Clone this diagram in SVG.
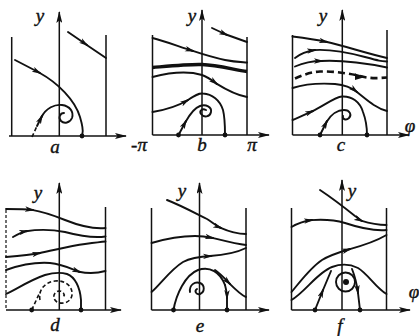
<svg xmlns="http://www.w3.org/2000/svg" width="419" height="336" viewBox="0 0 419 336">
<style>
.fr{fill:none;stroke:#111;stroke-width:1.5}
.cv{fill:none;stroke:#111;stroke-width:1.9;stroke-linecap:round}
.th{fill:none;stroke:#111;stroke-width:3.4}
.ds{fill:none;stroke:#111;stroke-width:1.6;stroke-dasharray:4 2.5}
.dt{fill:#111}
.lb{font-family:"Liberation Serif",serif;font-style:italic;font-size:19px;fill:#111;stroke:#111;stroke-width:0.4;text-anchor:middle}
</style>
<defs>
<marker id="ah" markerWidth="10" markerHeight="6" viewBox="0 0 10 6" refX="8" refY="3" orient="auto" markerUnits="userSpaceOnUse"><path d="M0,0.3 L10,3 L0,5.7 L2.5,3 z" fill="#111"/></marker>
<marker id="ax" markerWidth="12" markerHeight="6" viewBox="0 0 12 6" refX="11" refY="3" orient="auto" markerUnits="userSpaceOnUse"><path d="M0,0 L12,3 L0,6 L2.5,3 z" fill="#111"/></marker>
</defs>

<g id="panel-a">
<path class="fr" d="M11.7,37 V136 M106,35 V136"/>
<path class="fr" d="M59.3,136 V12" marker-end="url(#ax)"/>
<path class="fr" d="M9,136 H126" marker-end="url(#ax)"/>
<path class="cv" d="M68,32 L87,45" marker-end="url(#ah)"/>
<path class="cv" d="M86,44.5 L106,58"/>
<path class="cv" d="M15,60 L40,73" marker-end="url(#ah)"/>
<path class="cv" d="M39,72.5 C58,83 75,100 80,117 S82,132 82,136"/>
<path class="ds" d="M32,137 L37,126"/>
<path class="cv" d="M37,126 L42,116" marker-end="url(#ah)"/>
<path class="cv" d="M41.5,117 C46,108 55,104 62,105 C70,106 74,112 72,118 C70,123 64,124 61,121 C58,118 60,113 64,113"/>
<circle class="dt" cx="82" cy="136" r="2.4"/>
<text class="lb" x="40" y="22">y</text>
<text class="lb" x="55" y="153">a</text>
</g>

<g id="panel-b">
<path class="fr" d="M152.5,35 V135 M247,37 V135"/>
<path class="fr" d="M202,135 V10" marker-end="url(#ax)"/>
<path class="fr" d="M152.5,135 H269" marker-end="url(#ax)"/>
<path class="cv" d="M212,28 L227,35" marker-end="url(#ah)"/>
<path class="cv" d="M226,34.5 L247,42"/>
<path class="cv" d="M152.5,38 C165,41 180,47 193,51" marker-end="url(#ah)"/>
<path class="cv" d="M192,50.7 C205,55 215,58 225,60 S240,62 247,62.5"/>
<path class="th" d="M152.5,67.5 C170,66 190,64 202,64.5 C218,65 235,70 247,71.5"/>
<path class="cv" d="M152.5,77 C168,73 185,70 202,75 C208,77 213,81 217,84" marker-end="url(#ah)"/>
<path class="cv" d="M216,83.4 C225,89 235,95 247,97"/>
<path class="cv" d="M152.5,112 C165,110 178,106 188,100" marker-end="url(#ah)"/>
<path class="cv" d="M187,100.6 C194,96 198,93 203,93.5 C212,94 220,100 223,110 C225,118 225,128 225,135"/>
<path class="cv" d="M178.5,135 L186,121" marker-end="url(#ah)"/>
<path class="cv" d="M185.5,122 C190,114 194,108 200,106 C206,104 212,107 211,112 C210,117 204,118 201,114 C199,111 202,108 206,110"/>
<circle class="dt" cx="178.5" cy="135" r="2.4"/>
<circle class="dt" cx="225" cy="135" r="2.4"/>
<text class="lb" x="192" y="22">y</text>
<text class="lb" x="139" y="151">-π</text>
<text class="lb" x="202" y="151">b</text>
<text class="lb" x="252" y="151">π</text>
</g>

<g id="panel-c">
<path class="fr" d="M292.5,35 V135 M387,30 V135"/>
<path class="fr" d="M342.3,135 V10" marker-end="url(#ax)"/>
<path class="fr" d="M292.5,135 H409" marker-end="url(#ax)"/>
<path class="cv" d="M292.5,36.5 C305,38 318,40 327,42" marker-end="url(#ah)"/>
<path class="cv" d="M326,41.8 C345,46 365,53 387,58"/>
<path class="cv" d="M295,58 C300,54 308,51 315,50" marker-end="url(#ah)"/>
<path class="cv" d="M314,50.1 C330,49 350,53 365,57 S380,61 387,61.5"/>
<path class="cv" d="M295,66.5 C303,63 312,61 322,61" marker-end="url(#ah)"/>
<path class="cv" d="M321,61 C340,60 360,62 387,67.5"/>
<path class="th" style="stroke-width:2.6;stroke-dasharray:7 4" d="M295,78.5 C305,74 312,72 320,71.5 C335,71 352,74 362,76.5 S380,78 387,77.5"/>
<path d="M355,73.5 L366,76.8 L355,80 z" class="dt"/>
<path class="cv" d="M292.5,88 C305,84 320,83 335,84 C345,85 352,88 357,92" marker-end="url(#ah)"/>
<path class="cv" d="M356,91.3 C366,99 375,108 387,111"/>
<path class="cv" d="M292.5,120 C300,117 308,113 313,111" marker-end="url(#ah)"/>
<path class="cv" d="M312,111.4 C325,105 335,97 342,96.5 C352,96 360,102 363,112 C366,120 367,128 367,135"/>
<path class="cv" d="M320,135 L327,121" marker-end="url(#ah)"/>
<path class="cv" d="M326.5,122 C331,114 338,110 344,110 C350,110 352,115 349,118 C346,121 342,119 343,116"/>
<circle class="dt" cx="320" cy="135" r="2.4"/>
<circle class="dt" cx="367" cy="135" r="2.4"/>
<text class="lb" x="323" y="22">y</text>
<text class="lb" x="341" y="151">c</text>
<text class="lb" x="410" y="132">φ</text>
</g>

<g id="panel-d">
<path class="fr" style="stroke-dasharray:3 2;stroke-width:1.2" d="M6,210 V310"/>
<path class="fr" d="M105.5,207 V310"/>
<path class="fr" d="M59.3,310 V183" marker-end="url(#ax)"/>
<path class="fr" d="M6,310 H121" marker-end="url(#ax)"/>
<path class="cv" d="M6,209 C15,209 25,209 33,210" marker-end="url(#ah)"/>
<path class="cv" d="M32,209.9 C45,212 55,216 65,220 C80,226 95,229 105.5,228"/>
<path class="cv" d="M13,237 C18,234 22,232 27,231" marker-end="url(#ah)"/>
<path class="cv" d="M26,231.2 C40,229 55,230 65,232 C80,236 95,238 105.5,236.5"/>
<path class="cv" d="M6,257 C18,256 30,255 40,253" marker-end="url(#ah)"/>
<path class="cv" d="M39,253.2 C55,250 70,246 85,244 S100,242 105.5,241.5"/>
<path class="cv" d="M6,270 C20,265 35,262 50,263 C62,264 72,269 80,272" marker-end="url(#ah)"/>
<path class="cv" d="M79,271.7 C90,274 98,273 105.5,271"/>
<path class="cv" d="M6,294 C15,290 30,280 45,275 C52,273 60,272 67,274 C75,277 80,287 81,300 L81,310"/>
<path class="ds" d="M31.7,310 L40,292"/>
<path class="ds" d="M40,300 C38,290 45,282 55,281 C66,280 73,287 72,295 C71,302 63,305 57,302 C52,299 53,292 59,291 C64,291 66,296 62,298"/>
<circle class="dt" cx="31.7" cy="310" r="2.4"/>
<circle class="dt" cx="81" cy="310" r="2.4"/>
<text class="lb" x="38" y="199">y</text>
<text class="lb" x="55" y="331">d</text>
</g>

<g id="panel-e">
<path class="fr" d="M151.5,208 V310 M246,208 V310"/>
<path class="fr" d="M199.5,310 V183" marker-end="url(#ax)"/>
<path class="fr" d="M151.5,310 H269" marker-end="url(#ax)"/>
<path class="cv" d="M167,200 C180,205 195,213 207,219 C212,222 216,226 221,228" marker-end="url(#ah)"/>
<path class="cv" d="M220,227.6 C230,232 238,234 246,234"/>
<path class="cv" d="M151.5,243 C165,239 180,236 195,236 C203,236 208,237 213,238" marker-end="url(#ah)"/>
<path class="cv" d="M212,237.8 C225,241 236,244 246,245"/>
<path class="cv" d="M151.5,292 C160,285 170,270 183,262 C190,258 200,256.5 211,256" marker-end="url(#ah)"/>
<path class="cv" d="M210,256 C225,255 238,252 246,248"/>
<path class="cv" d="M173.5,310 C176,295 185,275 198,270 C210,266 220,272 225,285"/>
<path class="cv" d="M225,285 C227,293 227,296 227,298" marker-end="url(#ah)"/>
<path class="cv" d="M227,297 L227,310"/>
<path class="cv" d="M215,270 C222,275 226,280 230,284" marker-end="url(#ah)"/>
<path class="cv" d="M229.3,283.3 C236,290 241,295 246,297"/>
<path class="cv" d="M190,292 C189,285 195,281 200,283 C205,285 205,292 200,294 C196,295 194,291 197,289"/>
<circle class="dt" cx="173.5" cy="310" r="2.4"/>
<circle class="dt" cx="227" cy="310" r="2.4"/>
<text class="lb" x="182" y="197">y</text>
<text class="lb" x="200" y="332">e</text>
</g>

<g id="panel-f">
<path class="fr" d="M291.5,208 V310 M386.5,208 V310"/>
<path class="fr" d="M342,310 V180" marker-end="url(#ax)"/>
<path class="fr" d="M291.5,310 H410" marker-end="url(#ax)"/>
<path class="cv" d="M320,190 C332,198 345,208 355,216 C358,218 360,220 362,221" marker-end="url(#ah)"/>
<path class="cv" d="M361,220.6 C372,224 380,225 386.5,225"/>
<path class="cv" d="M291.5,227 C298,223 305,221 312,220" marker-end="url(#ah)"/>
<path class="cv" d="M311,220.1 C325,219 335,220 345,223 C360,228 375,231 386.5,230"/>
<path class="cv" d="M291.5,292 C300,282 310,268 322,260 C330,255 340,252 350,249" marker-end="url(#ah)"/>
<path class="cv" d="M349,249.3 C365,245 378,240 386.5,235"/>
<path class="cv" d="M291.5,300 C305,292 318,272 332,267 C340,264 350,264 358,268 C368,274 376,288 386.5,294"/>
<path class="cv" d="M315,310 L323,290" marker-end="url(#ah)"/>
<path class="cv" d="M322.6,291 L331,271"/>
<path class="cv" d="M352,269 C356,279 357,285 358,293" marker-end="url(#ah)"/>
<path class="cv" d="M357.9,292 L360,310"/>
<circle cx="345.5" cy="282" r="9.5" fill="none" stroke="#111" stroke-width="1.9"/>
<circle class="dt" cx="346" cy="282" r="3"/>
<circle class="dt" cx="315" cy="310" r="2.4"/>
<circle class="dt" cx="360" cy="310" r="2.4"/>
<text class="lb" x="352" y="197">y</text>
<text class="lb" x="340" y="332">f</text>
<text class="lb" x="414" y="298">φ</text>
</g>
</svg>
